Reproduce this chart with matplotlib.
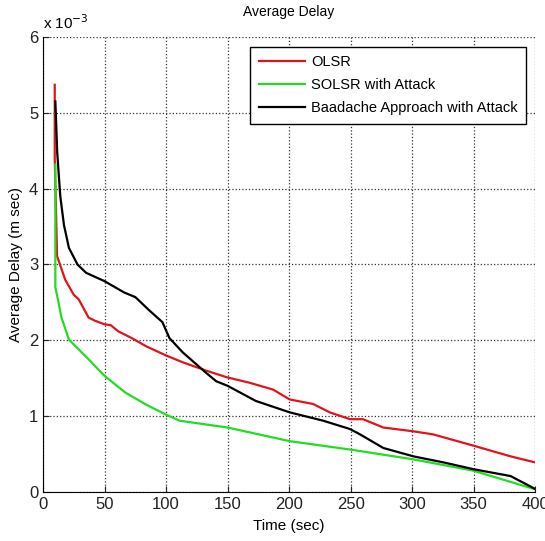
import matplotlib
matplotlib.use("Agg")
import matplotlib.pyplot as plt

plt.rcParams['font.family'] = ['Liberation Sans', 'DejaVu Sans']

# Time (sec) and Average Delay (x 1e-3 m sec)
olsr_t = [9.5, 9.5, 11.4, 18, 25, 29, 37, 42, 50, 55, 61, 72, 84, 100, 113.6, 132.6, 150, 168, 187, 200.5, 219.6, 233, 249.5, 260, 276.6, 301, 317, 350, 380, 400]
olsr_d = [5.37, 4.4, 3.11, 2.80, 2.6, 2.54, 2.30, 2.26, 2.21, 2.2, 2.12, 2.03, 1.92, 1.80, 1.71, 1.60, 1.51, 1.44, 1.35, 1.22, 1.16, 1.05, 0.96, 0.96, 0.85, 0.80, 0.76, 0.61, 0.47, 0.39]

solsr_t = [10, 10, 10, 12.7, 15, 21, 37, 50, 67, 84, 100, 111, 150, 200.5, 249.5, 301, 350, 400]
solsr_d = [4.32, 3.48, 2.7, 2.49, 2.3, 2.01, 1.75, 1.53, 1.31, 1.15, 1.02, 0.94, 0.85, 0.67, 0.56, 0.43, 0.28, 0.035]

baad_t = [10, 11.5, 14, 17, 21, 28, 35, 50, 66, 75, 86, 97, 102.7, 113.6, 132.6, 140.8, 150, 173, 200.5, 227.7, 249.5, 257.6, 276.6, 301, 325.5, 350, 380, 400]
baad_d = [5.15, 4.48, 3.9, 3.52, 3.22, 3.0, 2.89, 2.78, 2.63, 2.57, 2.40, 2.24, 2.03, 1.84, 1.57, 1.46, 1.40, 1.20, 1.05, 0.94, 0.83, 0.76, 0.58, 0.47, 0.39, 0.30, 0.21, 0.04]

xticks = [0, 50, 100, 150, 200, 250, 300, 350, 400]
yticks = [0, 1, 2, 3, 4, 5, 6]

fig = plt.figure(figsize=(5.45, 5.41), dpi=100)
ax = fig.add_axes([0.079, 0.0906, 0.903, 0.841])

ax.plot(olsr_t, olsr_d, color='#e0141e', lw=1.6, label='OLSR')
ax.plot(solsr_t, solsr_d, color='#22dd22', lw=1.6, label='SOLSR with Attack')
ax.plot(baad_t, baad_d, color='black', lw=1.6, label='Baadache Approach with Attack')

ax.set_xlim(0, 400)
ax.set_ylim(0, 6)
ax.set_xticks(xticks)
ax.set_yticks(yticks)
ax.tick_params(direction='in', labelsize=12, length=4, colors='#222222')
ax.grid(True, linestyle=':', color='#333333', lw=0.9)
ax.spines['top'].set_visible(False)
ax.spines['right'].set_visible(False)
ax.set_xlabel('Time (sec)', fontsize=11, labelpad=5)
ax.set_ylabel('Average Delay (m sec)', fontsize=11, labelpad=4)
ax.set_title('Average Delay', fontsize=10, pad=15)
ax.text(0.0, 1.01, 'x 10$^{-3}$', transform=ax.transAxes, fontsize=11, ha='left', va='bottom')

leg = ax.legend(loc='upper right', fontsize=10.5, fancybox=False, framealpha=1,
                edgecolor='black', handlelength=3.2, borderpad=0.6, labelspacing=0.6,
                handletextpad=0.4, bbox_to_anchor=(0.997, 0.995))
leg.get_frame().set_linewidth(1.0)

fig.savefig('out.png', dpi=100)
